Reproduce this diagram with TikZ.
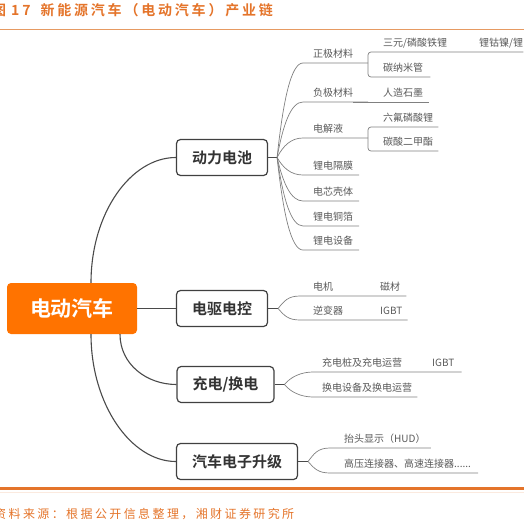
\documentclass[tikz,border=0pt]{standalone}
\usepackage{fontspec}
\setmainfont{Noto Sans CJK SC}[BoldFont={Noto Sans CJK SC Bold}]
\newfontfamily\titlefont{Noto Sans CJK SC Bold}[LetterSpace=20]
\newfontfamily\notefont{Noto Sans CJK SC}[LetterSpace=20]
\usepackage{xcolor}
\usetikzlibrary{calc}
\definecolor{evorange}{HTML}{FF7300}
\definecolor{reporange}{HTML}{E4742A}
\definecolor{rulelight}{HTML}{E69A62}
\definecolor{boxgray}{HTML}{404040}
\definecolor{textdark}{HTML}{333333}
\definecolor{linedark}{HTML}{4A4A4A}
\definecolor{leafgray}{HTML}{595959}
\definecolor{twiggray}{HTML}{808080}

\begin{document}
\begin{tikzpicture}[x=1pt, y=-1pt,
  rootbox/.style={fill=evorange, rounded corners=4pt, text=white, minimum width=130pt,
    minimum height=51pt, font=\bfseries\fontsize{21}{24}\selectfont},
  topic/.style={draw=boxgray, line width=1.2pt, fill=white, rounded corners=4pt, text=textdark,
    inner xsep=15.5pt, minimum height=36pt, font=\bfseries\fontsize{15}{18}\selectfont},
  leaf/.style={anchor=south west, inner xsep=0pt, inner ysep=3.5pt, text height=8.5pt,
    text depth=1.5pt, text=leafgray, font=\fontsize{10}{12}\selectfont},
  branch/.style={draw=linedark, line width=1.1pt},
  twig/.style={draw=twiggray, line width=0.7pt},
  twigcurve/.style={to path={.. controls ($(\tikztostart)!0.6!(\tikztostart |- \tikztotarget)+(6,0)$)
    and ($(\tikztotarget)+(-12,0)$) .. (\tikztotarget)}}]
  \useasboundingbox (0,0) rectangle (524,525);

  \node[anchor=west, inner sep=0pt, text=reporange, font=\titlefont\fontsize{14}{16}\selectfont]
    (title) at (-8,10) {图\hspace{5pt}17\hspace{10pt}新能源汽车（电动汽车）产业链};
  \draw[rulelight, line width=1pt] (0,29) -- (524,29);
  \draw[reporange, line width=3pt] (0,488) -- (524,488);
  \draw[reporange!15, line width=0.8pt] (0,492) -- (524,492);
  \node[anchor=west, inner sep=0pt, text=reporange, font=\notefont\fontsize{12}{14}\selectfont]
    (source) at (-6,514) {资料来源：根据公开信息整理，湘财证券研究所};

  \node[rootbox] (root) at (72,308.5) {电动汽车};
  \node[topic] (battery) at (222,157.5) {动力电池};
  \node[topic] (drive) at (222,308.5) {电驱电控};
  \node[topic] (charge) at (225.5,384.5) {充电/换电};
  \node[topic] (elec) at (237,461.5) {汽车电子升级};

  \coordinate (rtop) at ($(root.north)+(19,0)$);
  \coordinate (rbotA) at ($(root.south)+(48,0)$);
  \coordinate (rbotB) at ($(root.south)+(19,0)$);
  \draw[branch] (rtop) .. controls ($(rtop)+(0,-70)$) and ($(battery.west)+(-45,0)$) .. (battery.west);
  \draw[branch] (root.east) -- (drive.west);
  \draw[branch] (rbotA) .. controls ($(rbotA)+(0,30)$) and ($(charge.west)+(-30,0)$) .. (charge.west);
  \draw[branch] (rbotB) .. controls ($(rbotB)+(0,70)$) and ($(elec.west)+(-45,0)$) .. (elec.west);

  % battery
  \coordinate (fanB) at ($(battery.east)+(9,0)$);
  \draw[branch] (battery.east) -- (fanB);
  \foreach \n/\t/\y/\e in {zj/正极材料/63/368, fj/负极材料/102/368, djy/电解液/138/368,
      gm/锂电隔膜/175/359, kt/电芯壳体/201/359, tb/锂电铜箔/226/359, sb/锂电设备/250/359}{
    \node[leaf] (\n) at (313,\y) {\t};
    \coordinate (s\n) at ($(\n.south west)+(-10,0)$);
    \draw[twig] (fanB) to[twigcurve] (s\n) -- (\e,\y);
  }
  \node[leaf] (sy) at (383,52) {三元/磷酸铁锂};
  \node[leaf] (lgn) at (479,52) {锂钴镍/锂};
  \node[leaf] (tnmg) at (383,77) {碳纳米管};
  \node[leaf] (rzsm) at (383,102) {人造石墨};
  \node[leaf] (lfl) at (383,127) {六氟磷酸锂};
  \node[leaf] (tse) at (383,151) {碳酸二甲酯};
  \draw[twig, rounded corners=3pt] (lgn.south east) -- ($(sy.south west)+(-15,0)$)
    -- ($(tnmg.south west)+(-15,0)$) -- ($(tnmg.south east)+(7,0)$);
  \draw[twig] (fj.south east) -- ($(rzsm.south east)+(6,0)$);
  \draw[twig, rounded corners=3pt] ($(lfl.south east)+(5,0)$) -- ($(lfl.south west)+(-15,0)$)
    -- ($(tse.south west)+(-15,0)$) -- ($(tse.south east)+(5,0)$);

  % drive
  \coordinate (fanD) at ($(drive.east)+(10,0)$);
  \draw[branch] (drive.east) -- (fanD);
  \node[leaf] (dj) at (313,296) {电机};
  \node[leaf] (cc) at (380,296) {磁材};
  \node[leaf] (nbq) at (313,320) {逆变器};
  \node[leaf] (igbtA) at (380,320) {IGBT};
  \coordinate (sdj) at ($(dj.south west)+(-13,0)$);
  \coordinate (snbq) at ($(nbq.south west)+(-13,0)$);
  \draw[twig] (fanD) to[twigcurve] (sdj) -- ($(cc.south east)+(6,0)$);
  \draw[twig] (fanD) to[twigcurve] (snbq) -- ($(igbtA.south east)+(5,0)$);

  % charge
  \coordinate (fanC) at ($(charge.east)+(10,0)$);
  \draw[branch] (charge.east) -- (fanC);
  \node[leaf] (cdz) at (322,372) {充电桩及充电运营};
  \node[leaf] (igbtB) at (432,372) {IGBT};
  \node[leaf] (hdsb) at (322,397) {换电设备及换电运营};
  \coordinate (scdz) at ($(cdz.south west)+(-9,0)$);
  \coordinate (shdsb) at ($(hdsb.south west)+(-9,0)$);
  \draw[twig] (fanC) to[twigcurve] (scdz) -- ($(igbtB.south east)+(7,0)$);
  \draw[twig] (fanC) to[twigcurve] (shdsb) -- ($(hdsb.south east)+(5,0)$);

  % electronics
  \coordinate (fanE) at ($(elec.east)+(10,0)$);
  \draw[branch] (elec.east) -- (fanE);
  \node[leaf] (hud) at (344,448) {抬头显示（HUD）};
  \node[leaf] (ljq) at (344,473) {高压连接器、高速连接器......};
  \coordinate (shud) at ($(hud.south west)+(-14,0)$);
  \coordinate (sljq) at ($(ljq.south west)+(-14,0)$);
  \draw[twig] (fanE) to[twigcurve] (shud) -- ($(hud.south east)+(5,0)$);
  \draw[twig] (fanE) to[twigcurve] (sljq) -- ($(ljq.south east)+(7,0)$);
\end{tikzpicture}
\end{document}
